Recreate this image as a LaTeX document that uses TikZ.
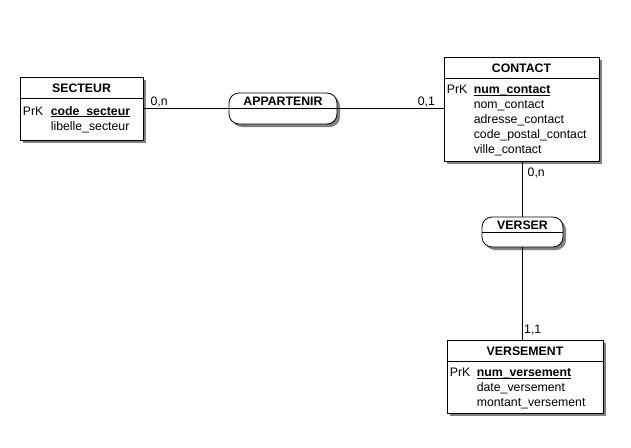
\documentclass[tikz,border=0pt]{standalone}
\usepackage{fontspec}
\setmainfont{Liberation Sans}
\usetikzlibrary{calc,shadows,positioning}

\newcommand{\cle}[1]{\underline{\smash{\textbf{#1}}}}

\tikzset{
  ombre/.style={drop shadow={shadow xshift=3pt,shadow yshift=-3pt,fill=black!50,opacity=1}},
  entite/.style={draw,fill=white,ombre,line width=0.8pt,inner sep=0pt},
  assoc/.style={draw,fill=white,ombre,rounded corners=10pt,line width=0.8pt,inner sep=0pt},
  titre/.style={font=\fontsize{12.3}{14}\selectfont\bfseries,inner sep=0pt},
  attr/.style={anchor=base west,inner sep=0pt},
  card/.style={anchor=base west,inner sep=0pt},
  lien/.style={line width=0.8pt}
}

\begin{document}
\begin{tikzpicture}[x=1pt,y=-1pt,font=\fontsize{12.3}{14}\selectfont]
\useasboundingbox (0,0) rectangle (631,447);

% entities
\node[entite,minimum width=123pt,minimum height=63pt] (secteur) at (81.5,108.5) {};
\node[entite,minimum width=155pt,minimum height=104pt] (contact) at (521.5,109) {};
\node[entite,minimum width=156pt,minimum height=73pt] (versement) at (525,376.5) {};

% associations
\node[assoc,minimum width=108pt,minimum height=31pt] (appartenir) at (283,108.5) {};
\node[assoc,minimum width=81pt,minimum height=30pt] (verser) at (522.5,232) {};

% links
\draw[lien] (secteur.east) -- (appartenir.west);
\draw[lien] (appartenir.east) -- (appartenir.east -| contact.west);
\draw[lien] (verser.north) -- (verser.north |- contact.south);
\draw[lien] (verser.south) -- (verser.south |- versement.north);

% headers
\pgfmathsetmacro{\h}{22} % header height
\foreach \e/\t in {secteur/SECTEUR,contact/CONTACT,versement/VERSEMENT}{
  \draw[lien] ($(\e.north west)+(0,\h)$) -- ($(\e.north east)+(0,\h)$);
  \node[titre] (\e-titre) at ($(\e.north)+(0,11.5)$) {\t};
}
\foreach \a/\t in {appartenir/APPARTENIR,verser/VERSER}{
  \draw[lien] (\a.west) -- (\a.east);
  \node[titre] (\a-titre) at ($(\a.north)+(0,8.5)$) {\t};
}

% attributes
\pgfmathsetmacro{\r}{15} % row step
\node[attr] (secteur-prk) at ($(secteur.north west)+(3,38.5)$) {PrK};
\node[attr] (secteur-cle) at ($(secteur.north west)+(31,38.5)$) {\cle{code\_secteur}};
\node[attr] (secteur-a1) at ($(secteur-cle.base west)+(0,\r)$) {libelle\_secteur};

\node[attr] (contact-prk) at ($(contact.north west)+(3,37)$) {PrK};
\node[attr] (contact-cle) at ($(contact.north west)+(30,37)$) {\cle{num\_contact}};
\foreach \n [count=\i] in {nom\_contact,adresse\_contact,code\_postal\_contact,ville\_contact}
  \node[attr] (contact-a\i) at ($(contact-cle.base west)+(0,\i*\r)$) {\n};

\node[attr] (versement-prk) at ($(versement.north west)+(3,37)$) {PrK};
\node[attr] (versement-cle) at ($(versement.north west)+(30,37)$) {\cle{num\_versement}};
\foreach \n [count=\i] in {date\_versement,montant\_versement}
  \node[attr] (versement-a\i) at ($(versement-cle.base west)+(0,\i*\r)$) {\n};

% cardinalities
\node[card] (c1) at ($(secteur.east)+(7,-3)$) {0,n};
\node[card] (c2) at ($(contact.west)+(-26,-3.5)$) {0,1};
\node[card] (c3) at ($(contact.south)+(6,15.5)$) {0,n};
\node[card] (c4) at ($(versement.north)+(-1,-6.5)$) {1,1};
\end{tikzpicture}
\end{document}
